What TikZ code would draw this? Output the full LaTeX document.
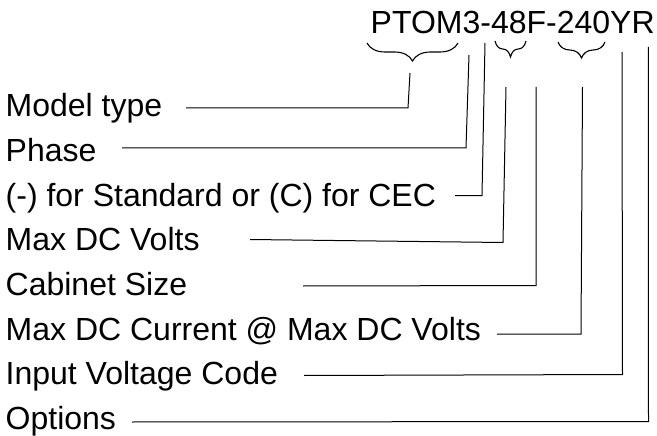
\documentclass[tikz,border=0pt]{standalone}
\usepackage{fontspec}
\setmainfont{Liberation Sans}
\usetikzlibrary{decorations.pathreplacing}
\begin{document}
\begin{tikzpicture}[x=1pt,y=-1pt,
  lbl/.style={anchor=base west,inner sep=0pt,font=\fontsize{32pt}{38pt}\selectfont},
  conn/.style={draw=black,line width=1pt},
  bracepath/.style={draw=black,line width=1.1pt,decorate,decoration={brace,amplitude=#1}}]
\useasboundingbox (0,0) rectangle (657,436);
% title
\node[lbl] (code) at (370.5,33.3) {PTOM3-48F-240YR};
% labels
\node[lbl] (l1) at (5.5,116.7) {Model type};
\node[lbl] (l2) at (5.5,161.4) {Phase};
\node[lbl] (l3) at (5.5,206.1) {(-) for Standard or (C) for CEC};
\node[lbl] (l4) at (5.5,250.8) {Max DC Volts};
\node[lbl] (l5) at (5.5,295.5) {Cabinet Size};
\node[lbl] (l6) at (5.5,340.2) {Max DC Current @ Max DC Volts};
\node[lbl] (l7) at (5.5,384.9) {Input Voltage Code};
\node[lbl] (l8) at (5.5,429.6) {Options};
% braces
\coordinate (b1r) at (458,43); \coordinate (b1l) at (367,43);
\coordinate (b2r) at (526,41); \coordinate (b2l) at (495,41);
\coordinate (b3r) at (605,42); \coordinate (b3l) at (558,42);
\draw[bracepath=18pt] (b1r) -- (b1l);
\draw[bracepath=16pt] (b2r) -- (b2l);
\draw[bracepath=16pt] (b3r) -- (b3l);
% connector coordinates
\coordinate (s1) at (186,108);   \coordinate (c1) at (408,108);   \coordinate (t1) at (410,73);
\coordinate (s2) at (122,148);   \coordinate (c2) at (466,148);   \coordinate (t2) at (469,55);
\coordinate (s3) at (455,195.5); \coordinate (c3) at (482,195.5); \coordinate (t3) at (485,43);
\coordinate (s4) at (250,239.5); \coordinate (c4) at (503,242.5); \coordinate (t4) at (506,87);
\coordinate (s5) at (303,286);   \coordinate (c5) at (536,285.5); \coordinate (t5) at (536,87);
\coordinate (s6) at (497,334);   \coordinate (c6) at (581,334);   \coordinate (t6) at (582.5,87);
\coordinate (s7) at (304,375.5); \coordinate (c7) at (622.5,374.5); \coordinate (t7) at (622,52);
\coordinate (s8) at (132,422);   \coordinate (c8) at (648.5,421.5); \coordinate (t8) at (648.3,47);
\foreach \i in {1,...,8} {\draw[conn] (s\i) -- (c\i) -- (t\i);}
\end{tikzpicture}
\end{document}
